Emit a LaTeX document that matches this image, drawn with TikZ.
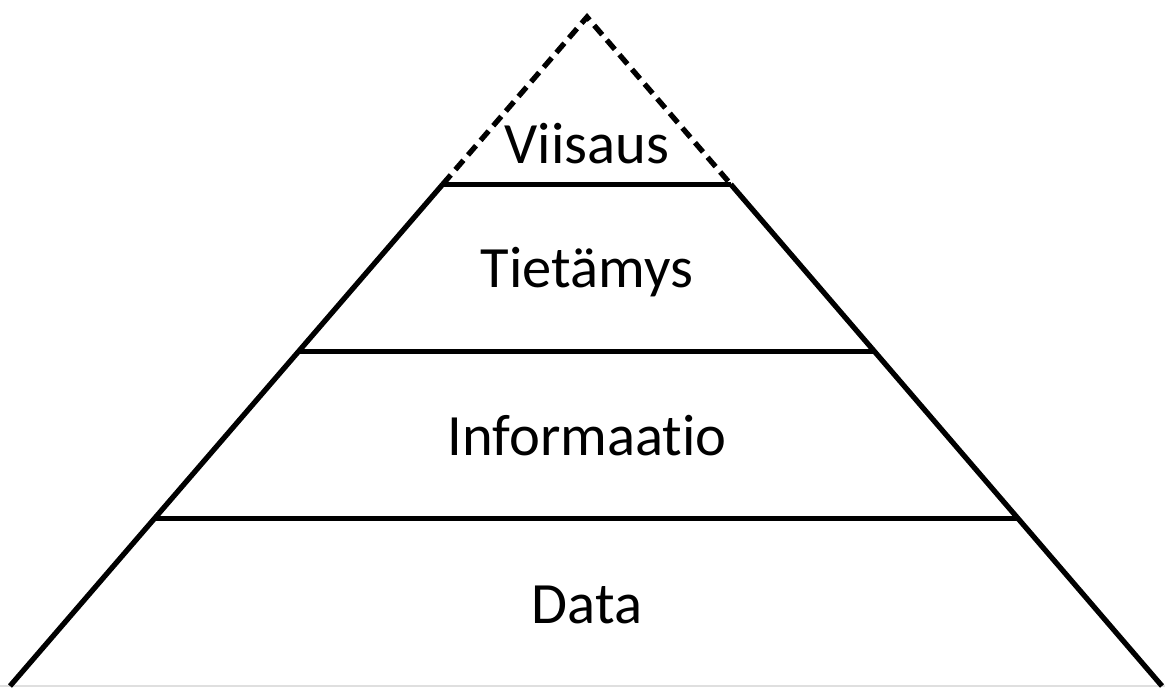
\documentclass[tikz,border=0pt]{standalone}
\usepackage{fontspec}
\setmainfont{Carlito}[Ligatures=NoCommon]
\usetikzlibrary{calc}

\tikzset{
    edge/.style={line width=3pt},
    tip edge/.style={line width=3pt, dash pattern=on 7pt off 4pt},
    levelname/.style={font=\fontsize{33.3}{40}\selectfont, anchor=base}
}

\begin{document}
\begin{tikzpicture}[x=0.02cm, y=-0.02cm]
        \useasboundingbox (0,0) rectangle (1165,687);

        % Corners of the pyramid
        \coordinate (apex) at (587,17);
        \coordinate (bl) at (10,686);
        \coordinate (br) at (1162,686);

        % Faint ground line
        \draw[gray!25, line width=0.8pt] (0,686) -- (1165,686);

        % Dashed top part
        \draw[tip edge] ($(apex)!0.25!(bl)$) -- (apex) -- ($(apex)!0.25!(br)$);

        % Solid sides
        \draw[edge] ($(apex)!0.25!(bl)$) -- (bl);
        \draw[edge] ($(apex)!0.25!(br)$) -- (br);

        % Level dividers
        \foreach \t in {0.25, 0.5, 0.75} {
            \draw[edge] ($(apex)!\t!(bl)$) -- ($(apex)!\t!(br)$);
        }

        % Level names
        \node[levelname] (viisaus) at (587,163) {Viisaus};
        \node[levelname] (tietamys) at (587,287) {Tietämys};
        \node[levelname] (informaatio) at (587,455) {Informaatio};
        \node[levelname] (data) at (587,623) {Data};
    \end{tikzpicture}
\end{document}
